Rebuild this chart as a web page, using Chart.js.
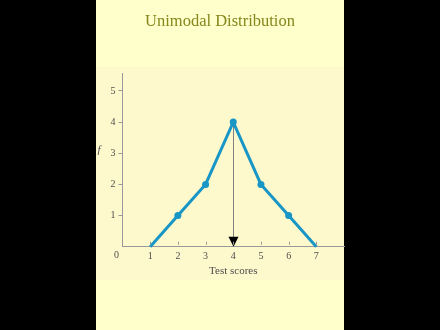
<!DOCTYPE html>
<html>
<head>
<meta charset="utf-8">
<script src="https://cdn.jsdelivr.net/npm/chart.js@4/dist/chart.umd.min.js"></script>
<style>
  html, body { margin: 0; padding: 0; background: #000; }
  #wrap { width: 440px; height: 330px; }
</style>
</head>
<body>
<div id="wrap"><canvas id="c" width="440" height="330"></canvas></div>
<script>
// Frequency polygon of test scores
const scores = [1, 2, 3, 4, 5, 6, 7];
const freqs = [0, 1, 2, 4, 2, 1, 0];
const xTicks = [1, 2, 3, 4, 5, 6, 7];
const yTicks = [1, 2, 3, 4, 5];
const titleText = 'Unimodal Distribution';
const xTitle = 'Test scores';
const yTitle = 'f';
const originLabel = '0';

const SERIF = "'Liberation Serif', 'DejaVu Serif', serif";
const LINE = '#1896c6';
const AXIS = '#999999';
const LABEL = '#4d4d4d';

const PANEL_L = 96, PANEL_R = 344;

// Paints the black surround, the pale panel and the slightly warmer figure area
const backdrop = {
  id: 'backdrop',
  beforeDraw(chart) {
    const { ctx, width, height } = chart;
    ctx.save();
    ctx.fillStyle = '#000000';
    ctx.fillRect(0, 0, width, height);
    ctx.fillStyle = '#ffffcc';
    ctx.fillRect(PANEL_L, 0, PANEL_R - PANEL_L, height);
    ctx.fillStyle = '#fef8cd';
    ctx.fillRect(PANEL_L, 67, PANEL_R - PANEL_L, 213);
    ctx.restore();
  }
};

// Vertical arrow from the modal point down to the score axis
const modeArrow = {
  id: 'modeArrow',
  beforeDatasetsDraw(chart) {
    const { ctx, scales: { x, y } } = chart;
    const peak = Math.max(...freqs);
    const i = freqs.indexOf(peak);
    const px = Math.round(x.getPixelForValue(scores[i])) + 0.5;
    const top = y.getPixelForValue(peak);
    const base = y.getPixelForValue(0);
    ctx.save();
    ctx.strokeStyle = '#808080';
    ctx.lineWidth = 1;
    ctx.beginPath();
    ctx.moveTo(px, top);
    ctx.lineTo(px, base - 8);
    ctx.stroke();
    ctx.fillStyle = '#000000';
    ctx.beginPath();
    ctx.moveTo(px - 5, base - 10);
    ctx.lineTo(px + 5, base - 10);
    ctx.lineTo(px, base);
    ctx.closePath();
    ctx.fill();
    ctx.restore();
  }
};

// Short inward tick marks on the score axis, plus the origin and f labels
const axisExtras = {
  id: 'axisExtras',
  afterDraw(chart) {
    const { ctx, scales: { x, y } } = chart;
    const base = y.getPixelForValue(0);
    ctx.save();
    ctx.strokeStyle = AXIS;
    ctx.lineWidth = 1;
    xTicks.forEach(v => {
      const px = Math.round(x.getPixelForValue(v)) + 0.5;
      ctx.beginPath();
      ctx.moveTo(px, base - 2);
      ctx.lineTo(px, base - 5);
      ctx.stroke();
    });
    ctx.fillStyle = LABEL;
    ctx.font = '10px ' + SERIF;
    ctx.textAlign = 'center';
    ctx.textBaseline = 'middle';
    ctx.fillText(originLabel, x.getPixelForValue(0) - 6, base + 9);
    ctx.font = 'italic 11px ' + SERIF;
    ctx.fillText(yTitle, 99, y.getPixelForValue(3) - 3);
    ctx.restore();
  }
};

new Chart(document.getElementById('c'), {
  type: 'line',
  data: {
    datasets: [{
      data: scores.map((s, i) => ({ x: s, y: freqs[i] })),
      borderColor: LINE,
      backgroundColor: LINE,
      borderWidth: 3,
      pointRadius: freqs.map((f, i) => (i === 0 || i === freqs.length - 1) ? 0 : 3.5),
      pointBackgroundColor: LINE,
      pointBorderWidth: 0,
      tension: 0,
      clip: false
    }]
  },
  options: {
    responsive: false,
    animation: false,
    devicePixelRatio: 1,
    layout: { padding: { left: PANEL_L, right: 440 - PANEL_R, top: 0, bottom: 0 } },
    plugins: {
      legend: { display: false },
      tooltip: { enabled: false },
      title: {
        display: true,
        text: titleText,
        color: '#86861c',
        font: { family: SERIF, size: 16.5, weight: 'normal', lineHeight: 1.2 },
        padding: { top: 12.1, bottom: 41.6 }
      }
    },
    scales: {
      x: {
        type: 'linear',
        min: 0,
        max: 8,
        grid: { display: false, drawTicks: false },
        border: { display: true, color: AXIS, width: 1 },
        afterBuildTicks: s => { s.ticks = xTicks.map(v => ({ value: v })); },
        afterFit: s => { s.height = 83.3; },
        ticks: {
          color: LABEL,
          font: { family: SERIF, size: 10 },
          padding: 4,
          autoSkip: false,
          maxRotation: 0
        },
        title: {
          display: true,
          text: xTitle,
          color: LABEL,
          font: { family: SERIF, size: 11 },
          padding: { top: 0, bottom: 52.4 }
        }
      },
      y: {
        type: 'linear',
        min: 0,
        max: 5.56,
        grid: { display: true, drawOnChartArea: false, drawTicks: true, tickLength: 4, color: AXIS },
        border: { display: true, color: AXIS, width: 1 },
        afterBuildTicks: s => { s.ticks = yTicks.map(v => ({ value: v })); },
        afterFit: s => { s.width = 26.5; },
        ticks: {
          color: LABEL,
          font: { family: SERIF, size: 10 },
          padding: 3
        }
      }
    }
  },
  plugins: [backdrop, modeArrow, axisExtras]
});
</script>
</body>
</html>
